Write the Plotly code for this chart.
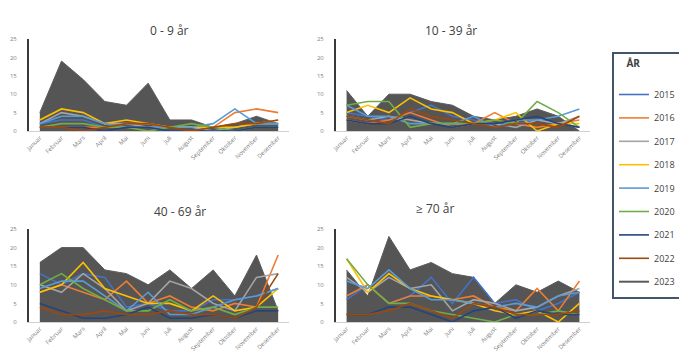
import plotly.graph_objects as go

months = ["Januar", "Februar", "Mars", "April", "Mai", "Juni", "Juli",
          "August", "September", "Oktober", "November", "Desember"]
years = ["2015", "2016", "2017", "2018", "2019", "2020", "2021", "2022", "2023"]
colors = ["#4472C4", "#ED7D31", "#A5A5A5", "#FFC000", "#5B9BD5",
          "#70AD47", "#264478", "#9E480E", "#5A5A5A"]

age_0_9 = {
    "2015": [2, 3, 3, 1, 1, 1, 0, 0, 1, 1, 2, 2],
    "2016": [1, 1, 1, 1, 2, 2, 1, 1, 1, 5, 6, 5],
    "2017": [2, 5, 4, 2, 2, 1, 1, 1, 0, 1, 2, 2],
    "2018": [3, 6, 5, 2, 3, 2, 1, 1, 1, 1, 2, 3],
    "2019": [2, 4, 4, 2, 1, 1, 1, 1, 2, 6, 2, 2],
    "2020": [1, 2, 2, 1, 1, 0, 1, 2, 1, 0, 1, 1],
    "2021": [1, 1, 1, 0, 1, 1, 0, 0, 0, 0, 1, 1],
    "2022": [1, 1, 0, 1, 2, 2, 1, 0, 1, 2, 2, 3],
    "2023": [5, 19, 14, 8, 7, 13, 3, 3, 1, 2, 4, 2],
}
age_10_39 = {
    "2015": [5, 4, 3, 5, 7, 4, 3, 1, 2, 3, 2, 1],
    "2016": [3, 2, 3, 5, 3, 1, 2, 5, 2, 1, 2, 3],
    "2017": [4, 3, 4, 3, 2, 2, 2, 2, 1, 3, 2, 4],
    "2018": [5, 7, 5, 9, 6, 5, 2, 3, 5, 0, 2, 2],
    "2019": [7, 4, 4, 2, 2, 2, 4, 1, 3, 3, 4, 6],
    "2020": [7, 8, 8, 1, 2, 2, 2, 3, 2, 8, 5, 1],
    "2021": [3, 2, 2, 4, 2, 1, 2, 2, 3, 4, 2, 1],
    "2022": [4, 3, 2, 6, 4, 3, 2, 1, 2, 2, 1, 4],
    "2023": [11, 4, 10, 10, 8, 7, 4, 3, 4, 6, 4, 0],
}
age_40_69 = {
    "2015": [13, 10, 13, 12, 4, 5, 3, 3, 6, 6, 7, 9],
    "2016": [8, 10, 8, 6, 11, 5, 7, 4, 3, 5, 4, 18],
    "2017": [10, 8, 13, 9, 3, 5, 11, 9, 5, 3, 12, 13],
    "2018": [8, 10, 16, 9, 7, 5, 5, 3, 7, 3, 4, 9],
    "2019": [9, 11, 11, 7, 3, 8, 2, 2, 4, 6, 7, 9],
    "2020": [10, 13, 9, 6, 3, 3, 6, 3, 4, 2, 4, 4],
    "2021": [5, 3, 1, 1, 2, 4, 1, 1, 2, 1, 3, 3],
    "2022": [4, 2, 2, 3, 2, 2, 3, 2, 2, 1, 4, 13],
    "2023": [16, 20, 20, 14, 13, 10, 14, 9, 14, 7, 18, 3],
}
age_70 = {
    "2015": [6, 10, 5, 7, 12, 5, 12, 5, 6, 3, 5, 8],
    "2016": [7, 10, 5, 7, 7, 6, 7, 4, 3, 9, 3, 11],
    "2017": [12, 8, 12, 9, 10, 3, 6, 5, 3, 4, 7, 9],
    "2018": [17, 8, 13, 9, 7, 6, 5, 3, 2, 3, 0, 5],
    "2019": [11, 9, 14, 9, 6, 6, 5, 4, 5, 4, 7, 8],
    "2020": [17, 10, 5, 5, 3, 2, 1, 0, 2, 2, 3, 2],
    "2021": [2, 2, 4, 4, 2, 0, 3, 4, 1, 3, 2, 2],
    "2022": [2, 2, 3, 5, 3, 1, 5, 4, 2, 2, 2, 3],
    "2023": [14, 7, 23, 14, 16, 13, 12, 5, 10, 8, 11, 8],
}

panels = [
    ("0 - 9 år", age_0_9, "x", "y"),
    ("10 - 39 år", age_10_39, "x2", "y2"),
    ("40 - 69 år", age_40_69, "x3", "y3"),
    ("≥ 70 år", age_70, "x4", "y4"),
]

fig = go.Figure()
for title, data, xa, ya in panels:
    # 2023 as filled area behind the lines
    fig.add_trace(go.Scatter(
        x=months, y=data["2023"], xaxis=xa, yaxis=ya, mode="lines",
        line=dict(color=colors[8], width=1), fill="tozeroy",
        fillcolor="rgba(85,85,85,1)", showlegend=False, name="2023"))
    for i, yr in enumerate(years[:-1]):
        fig.add_trace(go.Scatter(
            x=months, y=data[yr], xaxis=xa, yaxis=ya, mode="lines",
            line=dict(color=colors[i], width=1.6), name=yr,
            legendgroup=yr, showlegend=(xa == "x")))
fig.add_trace(go.Scatter(x=[None], y=[None], mode="lines", name="2023",
                         line=dict(color=colors[8], width=2),
                         legendgroup="2023", showlegend=True))

W, H = 679, 358
xdoms = [(29 / W, 289 / W), (336 / W, 590 / W)]
ydoms = [(1 - 131 / H, 1 - 39 / H), (1 - 322 / H, 1 - 229 / H)]

layout = dict(
    width=W, height=H,
    margin=dict(l=0, r=0, t=0, b=0, autoexpand=False),
    paper_bgcolor="white", plot_bgcolor="white",
    font=dict(family="Open Sans, Arial, sans-serif", color="#595959"),
    showlegend=True,
    legend=dict(x=612 / W, y=1 - 52 / H, xanchor="left", yanchor="top",
                bordercolor="#44546A", borderwidth=2, bgcolor="white",
                font=dict(size=9, color="#404040"),
                title=dict(text="&nbsp;&nbsp;&nbsp;&nbsp;<b>ÅR</b><br> ",
                           font=dict(size=10, color="#404040")),
                tracegroupgap=4.4, itemwidth=30),
)
pos = [(0, 0), (1, 0), (0, 1), (1, 1)]
names = ["", "2", "3", "4"]
for (ci, ri), n in zip(pos, names):
    layout["xaxis" + n] = dict(
        domain=xdoms[ci], anchor="y" + n, type="category",
        range=[-0.5, 11.5], showline=True, linecolor="#d0d0d0", linewidth=1,
        showgrid=False, zeroline=False, ticks="", tickangle=-45,
        tickfont=dict(size=6, color="#7f7f7f"), automargin=False)
    layout["yaxis" + n] = dict(
        domain=ydoms[ri], anchor="x" + n, range=[0, 25], dtick=5,
        showline=True, linecolor="#3a3a3a", linewidth=2,
        showgrid=False, zeroline=False, ticks="outside", ticklen=9,
        tickcolor="rgba(0,0,0,0)", tickfont=dict(size=6, color="#7f7f7f"),
        automargin=False)
fig.update_layout(**layout)

title_pos = [(148, 20), (451, 20), (152, 211), (456, 208)]
for (title, _, _, _), (tx, ty) in zip(panels, title_pos):
    fig.add_annotation(text=title, x=tx / W, y=1 - ty / H, xref="paper",
                       yref="paper", showarrow=False,
                       font=dict(size=12, color="#404040"))

fig.write_html("out.html")
